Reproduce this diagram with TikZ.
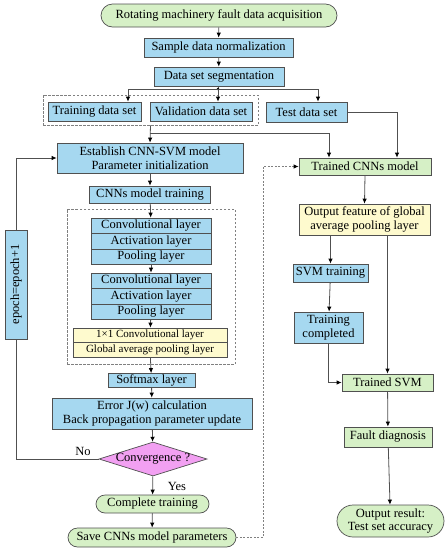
\documentclass[tikz,border=0pt]{standalone}
\usepackage{fontspec}
\setmainfont{Liberation Serif}
\usetikzlibrary{shapes.geometric,arrows.meta,calc}
\definecolor{bblue}{RGB}{166,216,240}
\definecolor{bgreen}{RGB}{214,240,198}
\definecolor{byellow}{RGB}{254,250,206}
\definecolor{bpink}{RGB}{242,160,242}
\definecolor{lgray}{RGB}{80,80,80}
\begin{document}
\begin{tikzpicture}[x=1pt,y=-1pt,
  font=\fontsize{12.5}{13.5}\selectfont,
  box/.style={draw=lgray,line width=0.7pt,inner sep=0pt,align=center,minimum width=#1},
  blue/.style={box=#1,fill=bblue},
  green/.style={box=#1,fill=bgreen},
  yell/.style={box=#1,fill=byellow},
  ln/.style={draw=lgray,line width=0.8pt},
  arr/.style={ln,-{Latex[length=5pt,width=4.5pt,black]}},
  darr/.style={draw=gray,line width=0.8pt,dashed,dash pattern=on 2pt off 1.5pt,-{Latex[length=5pt,width=4.5pt,black]}},
  dbox/.style={draw=gray,line width=0.7pt,dash pattern=on 2.5pt off 1.5pt,inner sep=0pt}]
\useasboundingbox (0,0) rectangle (445,550);

% top part
\node[green=236,minimum height=23,rounded corners=11.5] (acq) at (219,15.5) {Rotating machinery fault data acquisition};
\node[blue=149,minimum height=19] (norm) at (218.5,47.5) {Sample data normalization};
\node[blue=130,minimum height=19] (seg) at (219,76.5) {Data set segmentation};
\node[dbox,minimum width=215,minimum height=30] (dset) at (150.5,110) {};
\node[blue=93,minimum height=19] (train) at (94.5,111.5) {Training data set};
\node[blue=102,minimum height=19] (valid) at (201,111.5) {Validation data set};
\node[blue=81,minimum height=20] (test) at (306.5,112) {Test data set};
\coordinate (j) at (218,89);

\draw[arr] (acq) -- (norm);
\draw[arr] (norm) -- (seg);
\draw[ln] (seg.south) -- (j);
\fill[black] (j) circle (1.3);
\draw[arr] (j) -| ($(train.north)+(33.5,0)$);
\draw[arr] (j) -- ($(valid.north)+(17,0)$);
\draw[arr] (j) -| ($(test.north)+(11.5,0)$);

% left column
\node[blue=186,minimum height=30] (est) at (150,158) {Establish CNN-SVM model\\Parameter initialization};
\node[blue=121,minimum height=17] (cnt) at (150,194.5) {CNNs model training};
\node[dbox,minimum width=168,minimum height=155] (inner) at (151,286.5) {};
\node[blue=120,minimum height=15.5] (c1a) at (151,225.75) {Convolutional layer};
\node[blue=120,minimum height=15.5] (c1b) at (151,241.25) {Activation layer};
\node[blue=120,minimum height=15.5] (c1c) at (151,256.75) {Pooling layer};
\node[blue=120,minimum height=15.5] (c2a) at (151,280.75) {Convolutional layer};
\node[blue=120,minimum height=15.5] (c2b) at (151,296.25) {Activation layer};
\node[blue=120,minimum height=15.5] (c2c) at (151,311.75) {Pooling layer};
\node[yell=154,minimum height=14.5,font=\fontsize{11}{12}\selectfont] (y1) at (150,335.25) {1×1 Convolutional layer};
\node[yell=154,minimum height=14.5,font=\fontsize{11}{12}\selectfont] (y2) at (150,349.75) {Global average pooling layer};
\node[blue=87,minimum height=14] (soft) at (151.5,380.5) {Softmax layer};
\node[blue=200,minimum height=31] (err) at (152,413.5) {Error J(w) calculation\\Back propagation parameter update};
\node[diamond,draw=lgray,line width=0.7pt,fill=bpink,inner sep=0pt,minimum width=108,minimum height=34,label=center:Convergence ?] (conv) at (153,459) {};
\node[green=113,minimum height=18,rounded corners=9] (comp) at (152.5,504) {Complete training};
\node[green=168,minimum height=19,rounded corners=9.5] (save) at (152,537.5) {Save CNNs model parameters};
\node[blue=22,minimum height=109] (epoch) at (16,284.5) {};
\node[rotate=90] (epocht) at (epoch) {epoch=epoch+1};
\node (no) at (83,451) {No};
\node (yes) at (177,486) {Yes};

\draw[arr] (dset.south) -- (est.north);
\draw[arr] (est) -- (cnt);
\draw[arr] (cnt) -- (c1a);
\draw[arr] (c1c) -- (c2a);
\draw[arr] (c2c) -- (y1);
\draw[arr] (y2) -- (soft);
\draw[arr] (soft) -- (err);
\draw[arr] (err) -- (conv);
\draw[arr] (conv) -- (comp);
\draw[arr] (comp) -- (save);
\draw[ln] (conv.west) -| (epoch.south);
\draw[arr] (epoch.north) |- (est.west);

% right column
\node[green=132,minimum height=17] (tcnn) at (365,166.5) {Trained CNNs model};
\node[yell=131,minimum height=31] (outf) at (364.5,219.5) {Output feature of global\\average pooling layer};
\node[blue=75,minimum height=18] (svm) at (330.5,273) {SVM training};
\node[blue=69,minimum height=31] (tc) at (328.5,327.5) {Training\\completed};
\node[green=91,minimum height=17] (tsvm) at (387.5,382.5) {Trained SVM};
\node[green=88,minimum height=20] (fd) at (388,437) {Fault diagnosis};
\node[green=107,minimum height=32,rounded corners=16] (res) at (390.5,521) {Output result:\\Test set accuracy};

\coordinate (b1) at (150,133);
\draw[arr] (b1) -| ($(tcnn.north)+(-36,0)$);
\draw[arr] (test.east) -| ($(tcnn.north)+(32,0)$);
\draw[arr] (tcnn.south) -- (outf.north);
\draw[arr] (svm.north |- outf.south) -- (svm.north);
\draw[arr] (svm) -- (tc);
\draw[arr] (tc.south) |- (tsvm.west);
\draw[arr] (tsvm.north |- outf.south) -- (tsvm.north);
\draw[arr] (tsvm) -- (fd);
\draw[arr] (fd) -- (res);
\coordinate (dv) at (263,537.5);
\draw[darr] (save.east) -- (dv) |- (tcnn.west);
\end{tikzpicture}
\end{document}
